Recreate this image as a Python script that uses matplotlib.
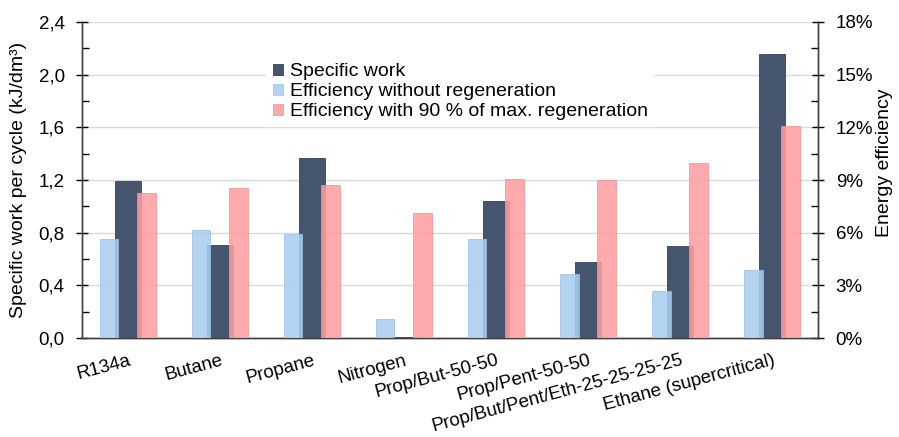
import numpy as np
import matplotlib
matplotlib.use('Agg')
import matplotlib.pyplot as plt
from matplotlib.ticker import MultipleLocator, FuncFormatter

plt.rcParams['font.family'] = ['Liberation Sans', 'DejaVu Sans']

fluids = ['R134a', 'Butane', 'Propane', 'Nitrogen', 'Prop/But-50-50',
          'Prop/Pent-50-50', 'Prop/But/Pent/Eth-25-25-25-25', 'Ethane (supercritical)']
specific_work = [1.19, 0.71, 1.37, 0.01, 1.04, 0.58, 0.70, 2.16]        # kJ/dm3
eff_no_regen = [5.65, 6.15, 5.9, 1.1, 5.62, 3.63, 2.7, 3.87]             # %
eff_regen = [8.24, 8.56, 8.73, 7.1, 9.07, 9.0, 9.95, 12.07]              # %

dark = '#46566f'
blue = '#a9cdef'
pink = '#ff9ea2'
fs = 14

fig = plt.figure(figsize=(8.99, 4.37), dpi=100)
ax = fig.add_axes([0.0912, 0.2265, 0.819, 0.7232])
ax2 = ax.twinx()

x = np.arange(len(fluids))
ax.bar(x, specific_work, width=0.28, color=dark, edgecolor='#34425a', linewidth=0.6,
       label='Specific work', zorder=3)
ax2.bar(x - 0.205, eff_no_regen, width=0.2, color=blue, alpha=0.88, edgecolor='#9cc0e4',
        linewidth=0.6, label='Efficiency without regeneration', zorder=3)
ax2.bar(x + 0.2, eff_regen, width=0.2, color=pink, alpha=0.88, edgecolor='#f29296',
        linewidth=0.6, label='Efficiency with 90 % of max. regeneration', zorder=3)

ax.set_xlim(-0.5, len(fluids) - 0.5)
ax.set_ylim(0, 2.4)
ax2.set_ylim(0, 18)

ax.yaxis.set_major_locator(MultipleLocator(0.4))
ax.yaxis.set_minor_locator(MultipleLocator(0.2))
ax.yaxis.set_major_formatter(FuncFormatter(lambda v, p: f'{v:.1f}'.replace('.', ',')))
ax2.yaxis.set_major_locator(MultipleLocator(3))
ax2.yaxis.set_minor_locator(MultipleLocator(1.5))
ax2.yaxis.set_major_formatter(FuncFormatter(lambda v, p: f'{v:.0f}%'))

ax.grid(axis='y', color='#d9d9d9', linewidth=1, zorder=0)
ax.set_axisbelow(True)

ax.tick_params(axis='y', which='major', direction='inout', length=9, width=1, labelsize=13.5, pad=8)
ax.tick_params(axis='y', which='minor', direction='in', length=5, width=1)
ax2.tick_params(axis='y', which='major', direction='inout', length=9, width=1, labelsize=13.5, pad=8)
ax2.tick_params(axis='y', which='minor', direction='in', length=5, width=1)
ax.tick_params(axis='x', length=0, pad=10)

ax.set_xticks(x)
ax.set_xticklabels(fluids, rotation=15, ha='right', rotation_mode='anchor', fontsize=13.5)

for a in (ax, ax2):
    a.spines['top'].set_visible(False)
    for s in ('left', 'right', 'bottom'):
        a.spines[s].set_color('#404040')
        a.spines[s].set_linewidth(1)

ax.set_ylabel('Specific work per cycle (kJ/dm³)', fontsize=fs)
ax.yaxis.set_label_coords(-0.075, 0.5)
ax2.set_ylabel('Energy efficiency', fontsize=fs)
ax2.yaxis.set_label_coords(1.078, 0.555)

h1, l1 = ax.get_legend_handles_labels()
h2, l2 = ax2.get_legend_handles_labels()
leg = ax2.legend(h1 + h2, l1 + l2, loc='upper left', bbox_to_anchor=(0.2365, 0.921),
                 fontsize=fs, frameon=True, framealpha=1, facecolor='white', edgecolor='none',
                 handlelength=0.55, handleheight=0.55, handletextpad=0.35, labelspacing=0.15,
                 borderpad=0.35, fancybox=False)
leg.set_zorder(5)

fig.savefig('out.png', dpi=100)
